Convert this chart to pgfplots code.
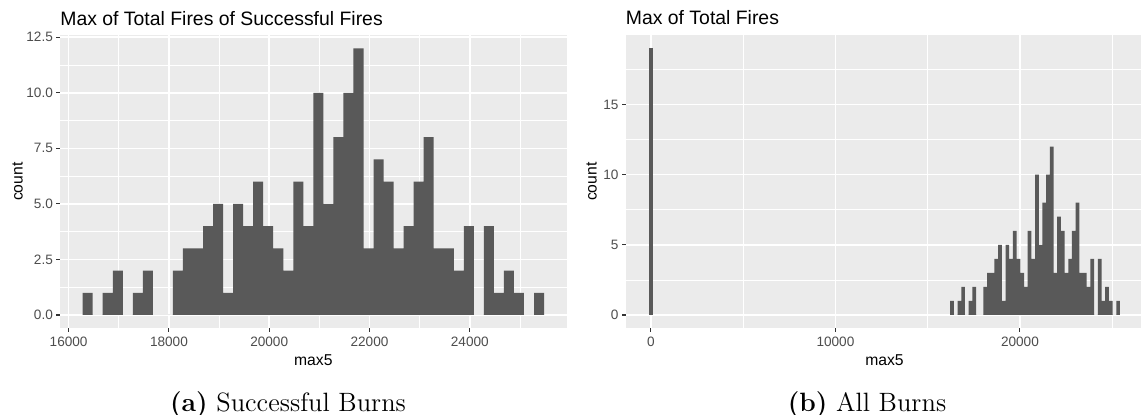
\documentclass[border=0pt]{standalone}
\usepackage{pgfplots}
\pgfplotsset{compat=1.18}
\usepackage{pgfplotstable}
\usepackage{fontspec}
\newfontfamily\arial{Liberation Sans}

\definecolor{panelbg}{HTML}{EBEBEB}
\definecolor{barfill}{HTML}{595959}
\definecolor{ticklab}{HTML}{4D4D4D}
\definecolor{tickcol}{HTML}{333333}

% Histogram of max5: bin centres for the two binnings (xa: successful
% burns only, xb: all burns) and the count in each bin.
\pgfplotstableread{
xa     xb     n
16380  16320  1
16580  16520  0
16780  16720  1
16980  16920  2
17180  17120  0
17380  17320  1
17580  17520  2
17780  17720  0
17980  17920  0
18180  18120  2
18380  18320  3
18580  18520  3
18780  18720  4
18980  18920  5
19180  19120  1
19380  19320  5
19580  19520  4
19780  19720  6
19980  19920  4
20180  20120  3
20380  20320  2
20580  20520  6
20780  20720  4
20980  20920  10
21180  21120  5
21380  21320  8
21580  21520  10
21780  21720  12
21980  21920  3
22180  22120  7
22380  22320  6
22580  22520  3
22780  22720  4
22980  22920  6
23180  23120  8
23380  23320  3
23580  23520  3
23780  23720  2
23980  23920  4
24180  24120  0
24380  24320  4
24580  24520  1
24780  24720  2
24980  24920  1
25180  25120  0
25380  25320  1
}\bins

% failed burns, all at zero
\pgfplotstableread{
x  n
0  19
}\zerobin

\newcommand\labfont{\arial\fontsize{7.85}{9}\selectfont}

\pgfplotsset{
  ggpanel/.style={
    scale only axis,
    height=146.65pt,
    anchor=south west,
    axis background/.style={fill=panelbg},
    axis x line*=bottom, axis y line*=left,
    axis line style={draw=none},
    tick align=outside,
    major tick length=1.75pt, minor tick length=0pt,
    tick style={color=tickcol, line width=0.55pt},
    grid=both,
    major grid style={white, line width=0.75pt},
    minor grid style={white, line width=0.35pt},
    tick label style={font=\arial\fontsize{6.8}{7.5}\selectfont, text=ticklab},
    /pgf/number format/assume math mode=true,
    /pgf/number format/set thousands separator={},
    scaled ticks=false,
    xticklabel style={anchor=base, inner sep=0pt, yshift=-7.1pt},
    yticklabel style={anchor=east, inner sep=0pt, xshift=-1.6pt},
    every axis x label/.style={at={(axis description cs:0.5,-0.1285)}, anchor=base, inner sep=0pt, font=\labfont},
    every axis title/.style={at={(axis description cs:0,1)}, anchor=base west, inner sep=0pt, yshift=5pt,
      font=\arial\fontsize{9.7}{11}\selectfont},
    xlabel={max5}, ylabel={count},
  },
  ggbars/.style={ybar, bar width=200, bar shift=0pt, fill=barfill, draw=none},
}

\begin{document}
\begin{tikzpicture}
\path[use as bounding box] (0,0) rectangle (570.5pt,207pt);

% (a) successful burns
\begin{axis}[ggpanel,
  at={(30pt,42.85pt)}, width=253.35pt,
  xmin=15828, xmax=25932, ymin=-0.6, ymax=12.6,
  xtick={16000,18000,20000,22000,24000},
  minor xtick={17000,19000,21000,23000,25000},
  ytick={0,2.5,5,7.5,10,12.5},
  minor ytick={1.25,3.75,6.25,8.75,11.25},
  yticklabel style={/pgf/number format/.cd, fixed, fixed zerofill, precision=1},
  every axis y label/.style={at={(axis description cs:-0.0736,0.5)}, rotate=90, anchor=base, inner sep=0pt, font=\labfont},
  title={Max of Total Fires of Successful Fires},
]
\addplot[ggbars] table[x=xa, y=n] {\bins};
\end{axis}

% (b) all burns
\begin{axis}[ggpanel,
  at={(312.75pt,42.85pt)}, width=259pt,
  xmin=-1376, xmax=26696, ymin=-0.95, ymax=19.95,
  xtick={0,10000,20000},
  minor xtick={5000,15000,25000},
  ytick={0,5,10,15},
  minor ytick={2.5,7.5,12.5,17.5},
  every axis y label/.style={at={(axis description cs:-0.0556,0.5)}, rotate=90, anchor=base, inner sep=0pt, font=\labfont},
  title={Max of Total Fires},
]
\addplot[ggbars] table[x=xb, y=n] {\bins};
\addplot[ggbars] table[x=x, y=n] {\zerobin};
\end{axis}

\node[anchor=base, font=\fontsize{13.25}{15}\selectfont] at (144pt,1.15pt) {\textbf{(a)} Successful Burns};
\node[anchor=base, font=\fontsize{13.25}{15}\selectfont] at (433.5pt,1.15pt) {\textbf{(b)} All Burns};
\end{tikzpicture}
\end{document}
